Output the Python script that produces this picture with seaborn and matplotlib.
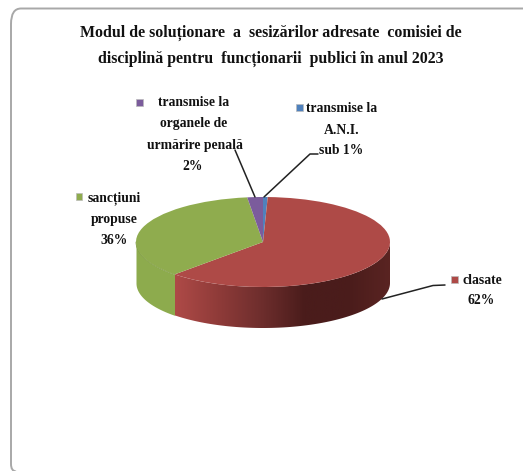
import numpy as np
import matplotlib
matplotlib.use("Agg")
import matplotlib.pyplot as plt
import seaborn as sns
from matplotlib.colors import LinearSegmentedColormap
from matplotlib.patches import Rectangle, PathPatch
from matplotlib.path import Path

sns.set_theme(style="white")
plt.rcParams['font.family'] = ['Liberation Serif', 'DejaVu Serif']

categories = ["transmise la A.N.I.", "clasate", "sanc\u021biuni propuse", "transmise la organele de urm\u0103rire penal\u0103"]
values = [0.6, 62, 36, 2]
colors = ["#4F81BD", "#AE4A47", "#8FAC4E", "#7B5C9C"]
title_lines = ["Modul de solu\u021bionare  a  sesiz\u0103rilor adresate  comisiei de",
               "disciplin\u0103 pentru  func\u021bionarii  publici \u00een anul 2023"]

W, H = 523, 471
CX, CY, RX, RY, DEPTH = 263, 242, 127, 45, 41

fig = plt.figure(figsize=(W / 100, H / 100), dpi=100, facecolor="white")

# page frame, in its own pixel axes
bg = fig.add_axes([0, 0, 1, 1], zorder=0)
bg.set_xlim(0, W)
bg.set_ylim(H, 0)
bg.axis("off")
frame = Path([(W + 5, 8.5), (21, 8.5), (11, 8.5), (11, 24), (11, 464), (11, 471), (16, 471.5)],
             [Path.MOVETO, Path.LINETO, Path.CURVE3, Path.CURVE3, Path.LINETO, Path.CURVE3, Path.CURVE3])
bg.add_patch(PathPatch(frame, facecolor="none", edgecolor="#A8A8A8", lw=1.4))

ax = fig.add_axes([0, 0, 1, 1], zorder=1)
ax.patch.set_alpha(0)
wedges, _ = ax.pie(values, colors=colors, startangle=90, counterclock=False,
                   radius=1, wedgeprops=dict(linewidth=0), normalize=True)
ax.set_aspect("auto")
ax.axis("off")
for w in wedges:
    w.set_zorder(5)

d = DEPTH / RY
red = wedges[1]
t1 = red.theta1 if red.theta1 > 180 else red.theta1 + 360

def wall(theta1, theta2):
    t = np.radians(np.linspace(theta1, theta2, 200))
    return np.cos(t), np.sin(t)

# green side wall (front-left part of the green slice)
x, y = wall(180, t1)
ax.fill_between(x, y, y - d, color="#8DAB4D", lw=0, zorder=2)
ax.plot(x, y, color="#7F9A48", lw=0.6, zorder=3)

# red side wall with gradient (light at the cut, dark on the right)
x, y = wall(t1, 360)
poly = ax.fill_between(x, y, y - d, color="none", lw=0, zorder=2)
cmap = LinearSegmentedColormap.from_list(
    "redwall", ["#AE4A47", "#8F3B39", "#6E2E2D", "#4A1C1B", "#4A1C1B", "#5A2422"])
im = ax.imshow(np.linspace(0, 1, 256)[None, :], cmap=cmap, aspect="auto",
               extent=(x.min(), x.max(), -1 - d, 1), zorder=2)
im.set_clip_path(poly.get_paths()[0], transform=ax.transData)
ax.set_xlim((0 - CX) / RX, (W - CX) / RX)
ax.set_ylim((CY - H) / RY, CY / RY)

def px(xp, yp):
    return ((xp - CX) / RX, (CY - yp) / RY)

txt = dict(ha="center", va="center", fontweight="bold", color="#111111", zorder=10)
ax.text(*px(271, 33), title_lines[0], fontsize=11.4, **txt)
ax.text(*px(271, 59), title_lines[1], fontsize=11.4, **txt)

lab = dict(fontsize=9.8, **txt)
ax.text(*px(194, 103), "transmise la", **lab)
ax.text(*px(194, 124), "organele de", **lab)
ax.text(*px(195, 145), "urm\u0103rire penal\u0103", **lab)
ax.text(*px(193, 166), "2%", **lab)
ax.text(*px(342, 108), "transmise la", **lab)
ax.text(*px(342, 130), "A.N.I.", **lab)
ax.text(*px(341, 151), "sub 1%", **lab)
ax.text(*px(114, 198), "sanc\u021biuni", **lab)
ax.text(*px(114, 219), "propuse", **lab)
ax.text(*px(114, 240), "36%", **lab)
ax.text(*px(482, 280), "clasate", **lab)
ax.text(*px(481, 301), "62%", **lab)

def swatch(xp, yp, c):
    x0, y0 = px(xp - 3.5, yp + 3.5)
    ax.add_patch(Rectangle((x0, y0), 7 / RX, 7 / RY, facecolor=c,
                           edgecolor="#BBBBBB", lw=0.5, zorder=10))

swatch(139, 102, colors[3])
swatch(299, 107, colors[0])
swatch(79, 196, colors[2])
swatch(454, 279, colors[1])

# leader lines
for pts in ([(235, 150), (255, 197)],
            [(318, 154), (310, 154), (264, 197)],
            [(445, 285), (433, 285.5), (382, 299)]):
    a = [px(*p) for p in pts]
    ax.plot([p[0] for p in a], [p[1] for p in a], color="#222222", lw=1.1, zorder=8)

fig.savefig("out.png", dpi=100, facecolor="white")
